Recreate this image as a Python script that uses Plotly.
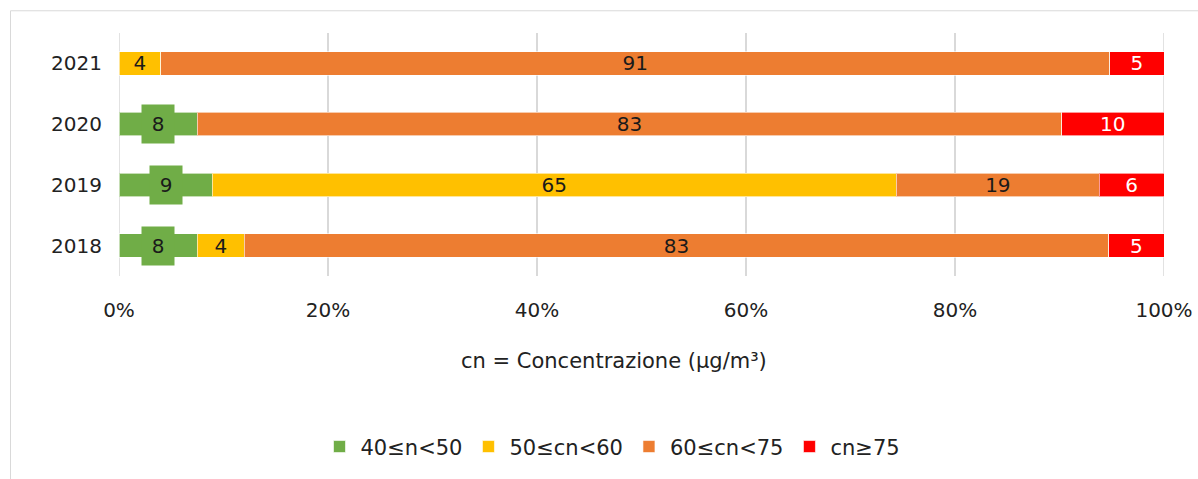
import plotly.graph_objects as go

years = ["2018", "2019", "2020", "2021"]
series_names = ["40≤n<50", "50≤cn<60", "60≤cn<75", "cn≥75"]
green = [7.5, 8.9, 7.5, 0.0]
yellow = [4.5, 65.5, 0.0, 4.0]
orange = [82.7, 19.4, 82.7, 90.8]
red = [5.3, 6.2, 9.8, 5.2]
green_lbl = ["8", "9", "8", ""]
yellow_lbl = ["4", "65", "", "4"]
orange_lbl = ["83", "19", "83", "91"]
red_lbl = ["5", "6", "10", "5"]
x_ticks = [0, 20, 40, 60, 80, 100]
x_ticktext = ["0%", "20%", "40%", "60%", "80%", "100%"]
x_title = "cn = Concentrazione (μg/m³)"

colors = ["#70AD47", "#FFC000", "#ED7D31", "#FF0000"]
text_colors = ["#1a1a1a", "#1a1a1a", "#1a1a1a", "white"]
FONT = "DejaVu Sans"
FS = 20
GRID = "#D9D9D9"

W, H = 1198, 479
L, R, T, B = 119, 1164, 33, 279

fig = go.Figure()
for name, vals, lbl, col, tcol, show_text in zip(
        series_names, [green, yellow, orange, red],
        [green_lbl, yellow_lbl, orange_lbl, red_lbl], colors, text_colors,
        [False, True, True, True]):
    fig.add_trace(go.Bar(
        y=years, x=vals, name=name, orientation="h",
        marker=dict(color=col, line=dict(color="rgba(255,255,255,0.6)", width=1)),
        text=lbl if show_text else None,
        textposition="inside", insidetextanchor="middle", textangle=0,
        constraintext="none",
        textfont=dict(color=tcol, size=FS, family=FONT),
        hoverinfo="skip",
    ))

# green labels with enlarged background boxes (y given as category index)
for idx, (gv, gl) in enumerate(zip(green, green_lbl)):
    if gl:
        fig.add_annotation(x=gv / 2, y=idx, xref="x", yref="y", text=gl,
                           showarrow=False, bgcolor="#70AD47",
                           width=32, height=38, borderpad=0,
                           font=dict(size=FS, color="#1a1a1a", family=FONT))

def px_x(p):
    return (p - L) / (R - L)

def px_y(p):
    return (B - p) / (B - T)

fig.add_annotation(x=px_x(614), y=px_y(365), xref="paper", yref="paper",
                   text=x_title, showarrow=False, xanchor="center", yanchor="middle",
                   font=dict(size=21, color="#222", family=FONT))

# outer chart frame
fig.add_shape(type="rect", xref="paper", yref="paper",
              x0=px_x(10.5), x1=px_x(1230), y0=px_y(500), y1=px_y(10.5),
              line=dict(color=GRID, width=1), fillcolor="rgba(0,0,0,0)", layer="below")

# grid lines at the axis ends (plotly drops grid lines at range ends)
for xv in (x_ticks[0], x_ticks[-1]):
    fig.add_shape(type="line", xref="x", yref="paper", x0=xv, x1=xv, y0=0, y1=1,
                  line=dict(color=GRID, width=1.5), layer="below")

fig.update_layout(
    width=W, height=H,
    margin=dict(l=L, r=W - R, t=T, b=H - B, pad=0),
    barmode="stack", barnorm="percent", bargap=0.61,
    plot_bgcolor="white", paper_bgcolor="white",
    font=dict(family=FONT, size=FS, color="#222"),
    showlegend=True,
    legend=dict(orientation="h", x=px_x(612), y=px_y(452), xanchor="center", yanchor="middle",
                font=dict(size=21, family=FONT, color="#222"), traceorder="normal",
                itemwidth=32),
    xaxis=dict(range=[0, 100], tickmode="array", tickvals=x_ticks, ticktext=x_ticktext,
               showgrid=True, gridcolor=GRID, gridwidth=1.5, zeroline=False,
               showline=False, ticks="outside", ticklen=16, tickcolor="rgba(0,0,0,0)",
               tickfont=dict(size=FS, family=FONT, color="#222"), automargin=False),
    yaxis=dict(type="category", categoryorder="array", categoryarray=years,
               range=[-0.5, len(years) - 0.5],
               showgrid=False, zeroline=False, showline=False,
               ticks="outside", ticklen=12, tickcolor="rgba(0,0,0,0)",
               tickfont=dict(size=FS, family=FONT, color="#222"), automargin=False),
)

fig.write_html("out.html", config={"displayModeBar": False},
               post_script="document.body.style.margin='0px';")
